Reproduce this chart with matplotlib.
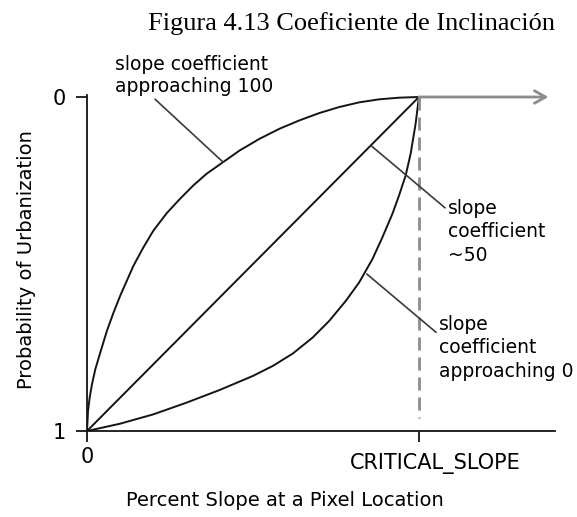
import matplotlib
matplotlib.use("Agg")
import matplotlib.pyplot as plt
from matplotlib.transforms import ScaledTranslation

plt.rcParams['font.family'] = 'DejaVu Sans'

# percent slope, as a fraction of CRITICAL_SLOPE
critical_slope = 1.0
x_end = 1.41

# slope coefficient approaching 100 (concave)
slope_100 = [0, 0.003, 0.008, 0.015, 0.025, 0.04, 0.06, 0.08, 0.1, 0.12,
             0.14, 0.17, 0.2, 0.24, 0.28, 0.32, 0.36, 0.41, 0.46, 0.52,
             0.58, 0.64, 0.7, 0.76, 0.82, 0.88, 0.94, 1.0]
prob_100 = [1, 0.94, 0.90, 0.86, 0.815, 0.765, 0.70, 0.645, 0.595, 0.55,
            0.505, 0.45, 0.40, 0.348, 0.305, 0.265, 0.23, 0.195, 0.16, 0.125,
            0.095, 0.07, 0.048, 0.03, 0.016, 0.007, 0.002, 0]

# slope coefficient ~50 (linear)
slope_50 = [0, 1.0]
prob_50 = [1, 0]

# slope coefficient approaching 0 (convex)
slope_0 = [0, 0.1, 0.2, 0.3, 0.4, 0.5, 0.56, 0.62, 0.68, 0.73, 0.78, 0.82,
           0.86, 0.89, 0.92, 0.94, 0.96, 0.975, 0.99, 1.0]
prob_0 = [1, 0.978, 0.95, 0.915, 0.877, 0.835, 0.805, 0.768, 0.72, 0.67,
          0.61, 0.555, 0.485, 0.42, 0.35, 0.295, 0.235, 0.17, 0.08, 0]

xticks = [0, critical_slope]
xtick_labels = ['0', 'CRITICAL_SLOPE']
yticks = [0, 1]
ytick_labels = ['0', '1']

gray = '#8c8c8c'
ink = '#141414'

fig = plt.figure(figsize=(5.77, 5.17), dpi=100)
ax = fig.add_axes([0.1508, 0.1663, 0.8111, 0.6493])

for xs, ys in [(slope_100, prob_100), (slope_50, prob_50), (slope_0, prob_0)]:
    ax.plot(xs, ys, color=ink, lw=1.4, solid_joinstyle='round')

# dashed guide at the critical slope and the flat line past it
ax.plot([critical_slope, critical_slope], [0, 0.96], color=gray, lw=2.0,
        dashes=(4.7, 2.5))
ax.annotate('', xy=(1.39, 0), xytext=(critical_slope, 0),
            arrowprops=dict(arrowstyle='->,head_length=8,head_width=4.5',
                            mutation_scale=1, lw=2.0, color=gray,
                            shrinkA=0, shrinkB=0))

ax.set_xlim(0, x_end)
ax.set_ylim(1, -0.005)
for side in ['top', 'right']:
    ax.spines[side].set_visible(False)
for side in ['left', 'bottom']:
    ax.spines[side].set_linewidth(1.3)
    ax.spines[side].set_color(ink)

ax.set_xticks(xticks, xtick_labels)
ax.set_yticks(yticks, ytick_labels)
ax.tick_params(length=8, width=1.3, color=ink, labelsize=15, pad=3.5)
ax.tick_params(axis='y', pad=7)
crit = ax.get_xticklabels()[1]
crit.set_transform(crit.get_transform() + ScaledTranslation(12 / 72, -4 / 72, fig.dpi_scale_trans))

ax.set_xlabel('Percent Slope at a Pixel Location', fontsize=14, va='center')
ax.xaxis.set_label_coords(0.423, -0.2055)
ax.set_ylabel('Probability of Urbanization', fontsize=14, va='center')
ax.yaxis.set_label_coords(-0.13, 0.512)

leader = dict(arrowstyle='-', color='#3a3a3a', lw=1.2, shrinkA=0, shrinkB=0)
ax.annotate('slope coefficient\napproaching 100', xy=(0.41, 0.195),
            xytext=(0.084, -0.063), ha='left', va='center', fontsize=13.5,
            linespacing=1.2, annotation_clip=False,
            arrowprops=dict(leader, relpos=(0.235, 0)))
ax.annotate('slope\ncoefficient\n~50', xy=(0.855, 0.145),
            xytext=(1.087, 0.404), ha='left', va='center', fontsize=13.5,
            linespacing=1.3, annotation_clip=False,
            arrowprops=dict(leader, relpos=(0, 0.83)))
ax.annotate('slope\ncoefficient\napproaching 0', xy=(0.843, 0.53),
            xytext=(1.06, 0.751), ha='left', va='center', fontsize=13.5,
            linespacing=1.3, annotation_clip=False,
            arrowprops=dict(leader, relpos=(0, 0.7)))

fig.text(351 / 577, 1 - 30 / 517, 'Figura 4.13 Coeficiente de Inclinación',
         family='Liberation Serif', fontsize=19, ha='center', va='baseline')

fig.savefig('out.png', dpi=100)
